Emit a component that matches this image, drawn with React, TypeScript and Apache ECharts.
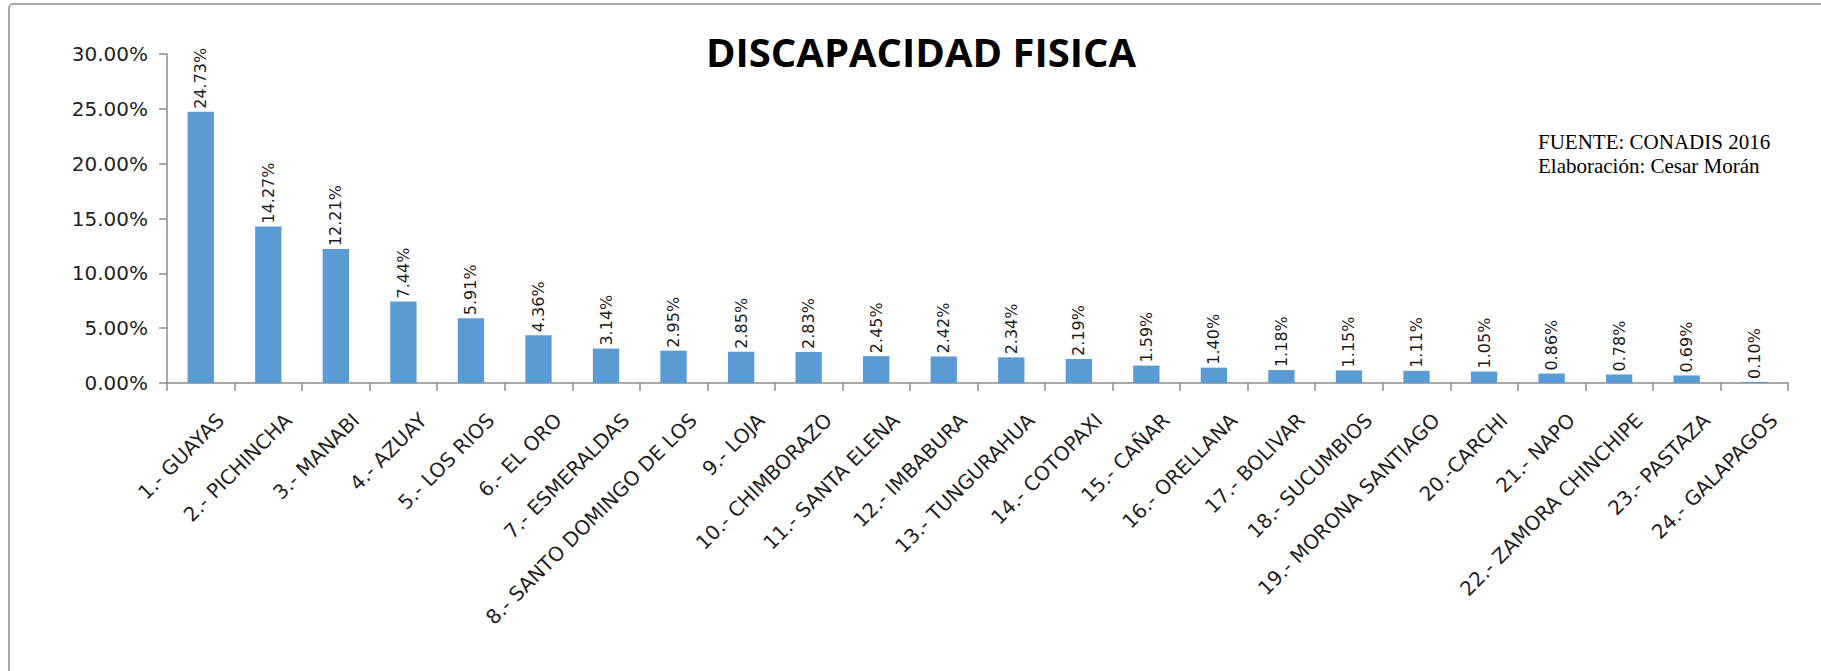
import React, { useEffect, useRef } from "react";
import * as echarts from "echarts";

const chartTitle = "DISCAPACIDAD FISICA";
const sourceLines = ["FUENTE: CONADIS 2016", "Elaboración: Cesar Morán"];

const categories = [
  "1.- GUAYAS",
  "2.- PICHINCHA",
  "3.- MANABI",
  "4.- AZUAY",
  "5.- LOS RIOS",
  "6.- EL ORO",
  "7.- ESMERALDAS",
  "8.- SANTO DOMINGO DE LOS",
  "9.- LOJA",
  "10.- CHIMBORAZO",
  "11.- SANTA ELENA",
  "12.- IMBABURA",
  "13.- TUNGURAHUA",
  "14.- COTOPAXI",
  "15.- CAÑAR",
  "16.- ORELLANA",
  "17.- BOLIVAR",
  "18.- SUCUMBIOS",
  "19.- MORONA SANTIAGO",
  "20.-CARCHI",
  "21.- NAPO",
  "22.- ZAMORA CHINCHIPE",
  "23.- PASTAZA",
  "24.- GALAPAGOS",
];

const values = [
  24.73, 14.27, 12.21, 7.44, 5.91, 4.36, 3.14, 2.95, 2.85, 2.83, 2.45, 2.42,
  2.34, 2.19, 1.59, 1.4, 1.18, 1.15, 1.11, 1.05, 0.86, 0.78, 0.69, 0.1,
];

const yMin = 0;
const yMax = 30;
const yStep = 5;

export default function App() {
  const ref = useRef<HTMLDivElement>(null);

  useEffect(() => {
    if (!ref.current) return;
    const chart = echarts.init(ref.current, null, { renderer: "svg" });
    const axisColor = "#8c8c8c";
    const textColor = "#1f1f1f";
    chart.setOption({
      animation: false,
      backgroundColor: "#ffffff",
      grid: { left: 167, right: 33, top: 54, bottom: 288 },
      graphic: [
        {
          type: "rect",
          shape: { x: 9, y: 4, width: 3000, height: 3000, r: 4 },
          style: { fill: "none", stroke: axisColor, lineWidth: 1.5 },
          z: -1,
        },
        {
          type: "text",
          x: 921,
          y: 51,
          style: {
            text: chartTitle,
            fontFamily: "Open Sans",
            fontWeight: "bold",
            fontSize: 40,
            fill: "#000000",
            align: "center",
            verticalAlign: "middle",
          },
        },
        {
          type: "text",
          x: 1538,
          y: 142,
          style: {
            text: sourceLines[0],
            fontFamily: "Liberation Serif",
            fontSize: 21,
            fill: "#000000",
            align: "left",
            verticalAlign: "middle",
          },
        },
        {
          type: "text",
          x: 1538,
          y: 166,
          style: {
            text: sourceLines[1],
            fontFamily: "Liberation Serif",
            fontSize: 21,
            fill: "#000000",
            align: "left",
            verticalAlign: "middle",
          },
        },
      ],
      xAxis: {
        type: "category",
        data: categories,
        boundaryGap: true,
        axisLine: { show: true, lineStyle: { color: axisColor, width: 1.5 } },
        axisTick: {
          show: true,
          alignWithLabel: false,
          length: 8,
          lineStyle: { color: axisColor, width: 1.5 },
        },
        axisLabel: {
          interval: 0,
          rotate: 45,
          margin: 14,
          verticalAlign: "top",
          padding: [18, 0, 0, 0],
          fontFamily: "DejaVu Sans",
          fontSize: 20,
          color: textColor,
        },
        splitLine: { show: false },
      },
      yAxis: {
        type: "value",
        min: yMin,
        max: yMax,
        interval: yStep,
        axisLine: { show: true, lineStyle: { color: axisColor, width: 1.5 } },
        axisTick: { show: true, length: 8, lineStyle: { color: axisColor, width: 1.5 } },
        axisLabel: {
          margin: 19,
          fontFamily: "DejaVu Sans",
          fontSize: 20,
          color: textColor,
          formatter: (v: number) => v.toFixed(2) + "%",
        },
        splitLine: { show: false },
      },
      series: [
        {
          type: "bar",
          data: values,
          barWidth: "39%",
          itemStyle: { color: "#5B9BD5" },
          label: {
            show: true,
            position: "top",
            rotate: 90,
            align: "left",
            verticalAlign: "middle",
            distance: 3,
            fontFamily: "DejaVu Sans",
            fontSize: 16,
            color: "#1a1a1a",
            formatter: (p: any) => p.value.toFixed(2) + "%",
          },
        },
      ],
    });
    return () => chart.dispose();
  }, []);

  return (
    <div
      ref={ref}
      style={{ position: "absolute", left: 0, top: 0, width: 1821, height: 671 }}
    />
  );
}
